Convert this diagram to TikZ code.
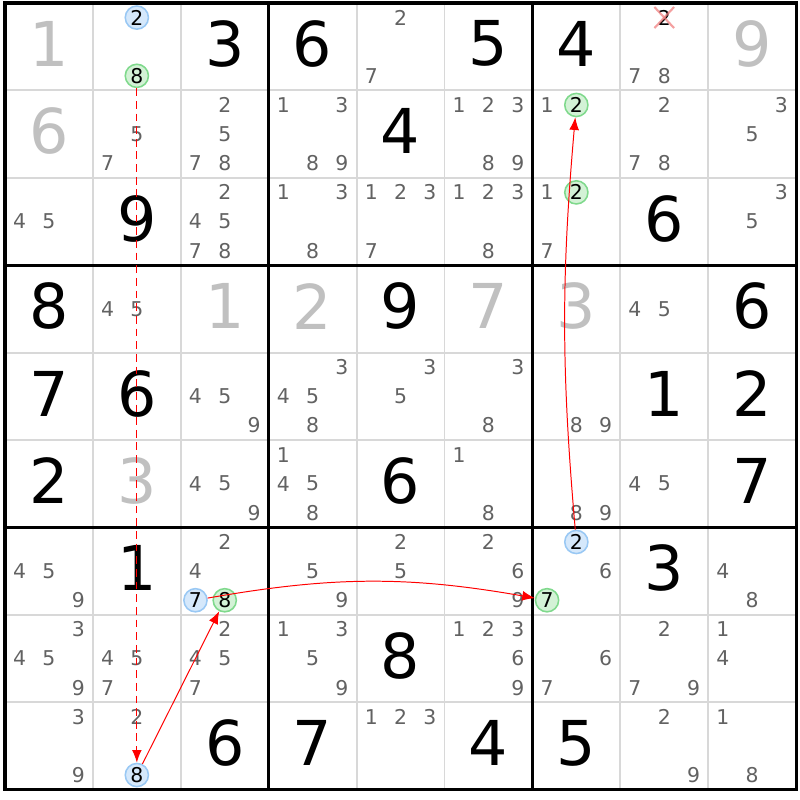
\documentclass[tikz,border=0pt]{standalone}
\usepackage{fontspec}
\setmainfont{DejaVu Sans}
\usetikzlibrary{arrows.meta}
\definecolor{givengray}{HTML}{C0C0C0}
\definecolor{candgray}{HTML}{626262}
\definecolor{gridgray}{HTML}{D8D8D8}
\definecolor{markblue}{HTML}{D5E8FB}
\definecolor{lineblue}{HTML}{99C8F4}
\definecolor{markgreen}{HTML}{D3F2D6}
\definecolor{linegreen}{HTML}{7FD98C}
\definecolor{crosspink}{HTML}{F07878}
\tikzstyle{solved} = [font=\fontsize{44}{44}\selectfont, text=black, inner sep=0pt, yshift=2pt]
\tikzstyle{given} = [solved, text=givengray]
\tikzstyle{cand} = [font=\fontsize{14.5}{14.5}\selectfont, text=candgray, inner sep=0pt]
\tikzstyle{bluemark} = [circle, minimum size=16.5pt, fill=markblue, draw=lineblue, line width=1.1pt, text=black]
\tikzstyle{greenmark} = [circle, minimum size=16.5pt, fill=markgreen, draw=linegreen, line width=1.1pt, text=black]
\tikzstyle{arrow} = [red, line width=0.7pt, -{Latex[length=9pt,width=7pt]}]
\tikzstyle{dashline} = [arrow, line width=0.9pt, dash pattern=on 5.5pt off 3.5pt]
\tikzstyle{thingrid} = [gridgray, line width=1.4pt]
\tikzstyle{boxline} = [black, line width=2.2pt]
\tikzstyle{crossout} = [crosspink, line width=1.5pt, opacity=0.7]
\newcommand{\cellval}[4][solved]{\node[#1] (v#2#3) at ({#3-0.5},{#2-0.5}) {#4};}
\newcommand{\cellcand}[4][]{\node[cand,#1] (c#2#3n#4) at ({#3-0.5+(mod(#4-1,3)-1)/3},{#2-0.5+(floor((#4-1)/3)-1)/3}) {#4};}

\begin{document}
\begin{tikzpicture}[x=2.1975cm, y=-2.185cm]
	\fill[white] (-0.0569,-0.0343) rectangle (9.0444,9.119);
	\useasboundingbox (-0.0569,-0.0343) rectangle (9.0444,9.119);
	% grid
	\foreach \i in {1,...,8} {
		\draw[thingrid] (\i,0) -- (\i,9);
		\draw[thingrid] (0,\i) -- (9,\i);
	}
	\foreach \i in {3,6} {
		\draw[boxline] (\i,0) -- (\i,9);
		\draw[boxline] (0,\i) -- (9,\i);
	}
	\draw[boxline] (0,0) rectangle (9,9);

	% row 1
	\cellval[given]{1}{1}{1}
	\cellcand[bluemark]{1}{2}{2} \cellcand[greenmark]{1}{2}{8}
	\cellval{1}{3}{3}
	\cellval{1}{4}{6}
	\cellcand{1}{5}{2} \cellcand{1}{5}{7}
	\cellval{1}{6}{5}
	\cellval{1}{7}{4}
	\cellcand[text=black]{1}{8}{2} \cellcand{1}{8}{7} \cellcand{1}{8}{8}
	\cellval[given]{1}{9}{9}
	% row 2
	\cellval[given]{2}{1}{6}
	\cellcand{2}{2}{5} \cellcand{2}{2}{7}
	\cellcand{2}{3}{2} \cellcand{2}{3}{5} \cellcand{2}{3}{7} \cellcand{2}{3}{8}
	\cellcand{2}{4}{1} \cellcand{2}{4}{3} \cellcand{2}{4}{8} \cellcand{2}{4}{9}
	\cellval{2}{5}{4}
	\cellcand{2}{6}{1} \cellcand{2}{6}{2} \cellcand{2}{6}{3} \cellcand{2}{6}{8} \cellcand{2}{6}{9}
	\cellcand{2}{7}{1} \cellcand[greenmark]{2}{7}{2}
	\cellcand{2}{8}{2} \cellcand{2}{8}{7} \cellcand{2}{8}{8}
	\cellcand{2}{9}{3} \cellcand{2}{9}{5}
	% row 3
	\cellcand{3}{1}{4} \cellcand{3}{1}{5}
	\cellval{3}{2}{9}
	\cellcand{3}{3}{2} \cellcand{3}{3}{4} \cellcand{3}{3}{5} \cellcand{3}{3}{7} \cellcand{3}{3}{8}
	\cellcand{3}{4}{1} \cellcand{3}{4}{3} \cellcand{3}{4}{8}
	\cellcand{3}{5}{1} \cellcand{3}{5}{2} \cellcand{3}{5}{3} \cellcand{3}{5}{7}
	\cellcand{3}{6}{1} \cellcand{3}{6}{2} \cellcand{3}{6}{3} \cellcand{3}{6}{8}
	\cellcand{3}{7}{1} \cellcand[greenmark]{3}{7}{2} \cellcand{3}{7}{7}
	\cellval{3}{8}{6}
	\cellcand{3}{9}{3} \cellcand{3}{9}{5}
	% row 4
	\cellval{4}{1}{8}
	\cellcand{4}{2}{4} \cellcand{4}{2}{5}
	\cellval[given]{4}{3}{1}
	\cellval[given]{4}{4}{2}
	\cellval{4}{5}{9}
	\cellval[given]{4}{6}{7}
	\cellval[given]{4}{7}{3}
	\cellcand{4}{8}{4} \cellcand{4}{8}{5}
	\cellval{4}{9}{6}
	% row 5
	\cellval{5}{1}{7}
	\cellval{5}{2}{6}
	\cellcand{5}{3}{4} \cellcand{5}{3}{5} \cellcand{5}{3}{9}
	\cellcand{5}{4}{3} \cellcand{5}{4}{4} \cellcand{5}{4}{5} \cellcand{5}{4}{8}
	\cellcand{5}{5}{3} \cellcand{5}{5}{5}
	\cellcand{5}{6}{3} \cellcand{5}{6}{8}
	\cellcand{5}{7}{8} \cellcand{5}{7}{9}
	\cellval{5}{8}{1}
	\cellval{5}{9}{2}
	% row 6
	\cellval{6}{1}{2}
	\cellval[given]{6}{2}{3}
	\cellcand{6}{3}{4} \cellcand{6}{3}{5} \cellcand{6}{3}{9}
	\cellcand{6}{4}{1} \cellcand{6}{4}{4} \cellcand{6}{4}{5} \cellcand{6}{4}{8}
	\cellval{6}{5}{6}
	\cellcand{6}{6}{1} \cellcand{6}{6}{8}
	\cellcand{6}{7}{8} \cellcand{6}{7}{9}
	\cellcand{6}{8}{4} \cellcand{6}{8}{5}
	\cellval{6}{9}{7}
	% row 7
	\cellcand{7}{1}{4} \cellcand{7}{1}{5} \cellcand{7}{1}{9}
	\cellval{7}{2}{1}
	\cellcand{7}{3}{2} \cellcand{7}{3}{4} \cellcand[bluemark]{7}{3}{7} \cellcand[greenmark]{7}{3}{8}
	\cellcand{7}{4}{5} \cellcand{7}{4}{9}
	\cellcand{7}{5}{2} \cellcand{7}{5}{5}
	\cellcand{7}{6}{2} \cellcand{7}{6}{6} \cellcand{7}{6}{9}
	\cellcand[bluemark]{7}{7}{2} \cellcand{7}{7}{6} \cellcand[greenmark]{7}{7}{7}
	\cellval{7}{8}{3}
	\cellcand{7}{9}{4} \cellcand{7}{9}{8}
	% row 8
	\cellcand{8}{1}{3} \cellcand{8}{1}{4} \cellcand{8}{1}{5} \cellcand{8}{1}{9}
	\cellcand{8}{2}{4} \cellcand{8}{2}{5} \cellcand{8}{2}{7}
	\cellcand{8}{3}{2} \cellcand{8}{3}{4} \cellcand{8}{3}{5} \cellcand{8}{3}{7}
	\cellcand{8}{4}{1} \cellcand{8}{4}{3} \cellcand{8}{4}{5} \cellcand{8}{4}{9}
	\cellval{8}{5}{8}
	\cellcand{8}{6}{1} \cellcand{8}{6}{2} \cellcand{8}{6}{3} \cellcand{8}{6}{6} \cellcand{8}{6}{9}
	\cellcand{8}{7}{6} \cellcand{8}{7}{7}
	\cellcand{8}{8}{2} \cellcand{8}{8}{7} \cellcand{8}{8}{9}
	\cellcand{8}{9}{1} \cellcand{8}{9}{4}
	% row 9
	\cellcand{9}{1}{3} \cellcand{9}{1}{9}
	\cellcand{9}{2}{2} \cellcand[bluemark]{9}{2}{8}
	\cellval{9}{3}{6}
	\cellval{9}{4}{7}
	\cellcand{9}{5}{1} \cellcand{9}{5}{2} \cellcand{9}{5}{3}
	\cellval{9}{6}{4}
	\cellval{9}{7}{5}
	\cellcand{9}{8}{2} \cellcand{9}{8}{9}
	\cellcand{9}{9}{1} \cellcand{9}{9}{8}

	% eliminated candidate
	\draw[crossout] ([xshift=-7pt,yshift=7.5pt]c18n2.center) -- ([xshift=7pt,yshift=-7.5pt]c18n2.center);
	\draw[crossout] ([xshift=-7pt,yshift=-7.5pt]c18n2.center) -- ([xshift=7pt,yshift=7.5pt]c18n2.center);

	% chain
	\draw[dashline] (c12n8) -- (c92n8);
	\draw[arrow] (c92n8) -- (c73n8);
	\draw[arrow] (c73n7) to[bend left=10] (c77n7);
	\draw[arrow] (c77n2) to[bend left=5] (c27n2);
\end{tikzpicture}
\end{document}
